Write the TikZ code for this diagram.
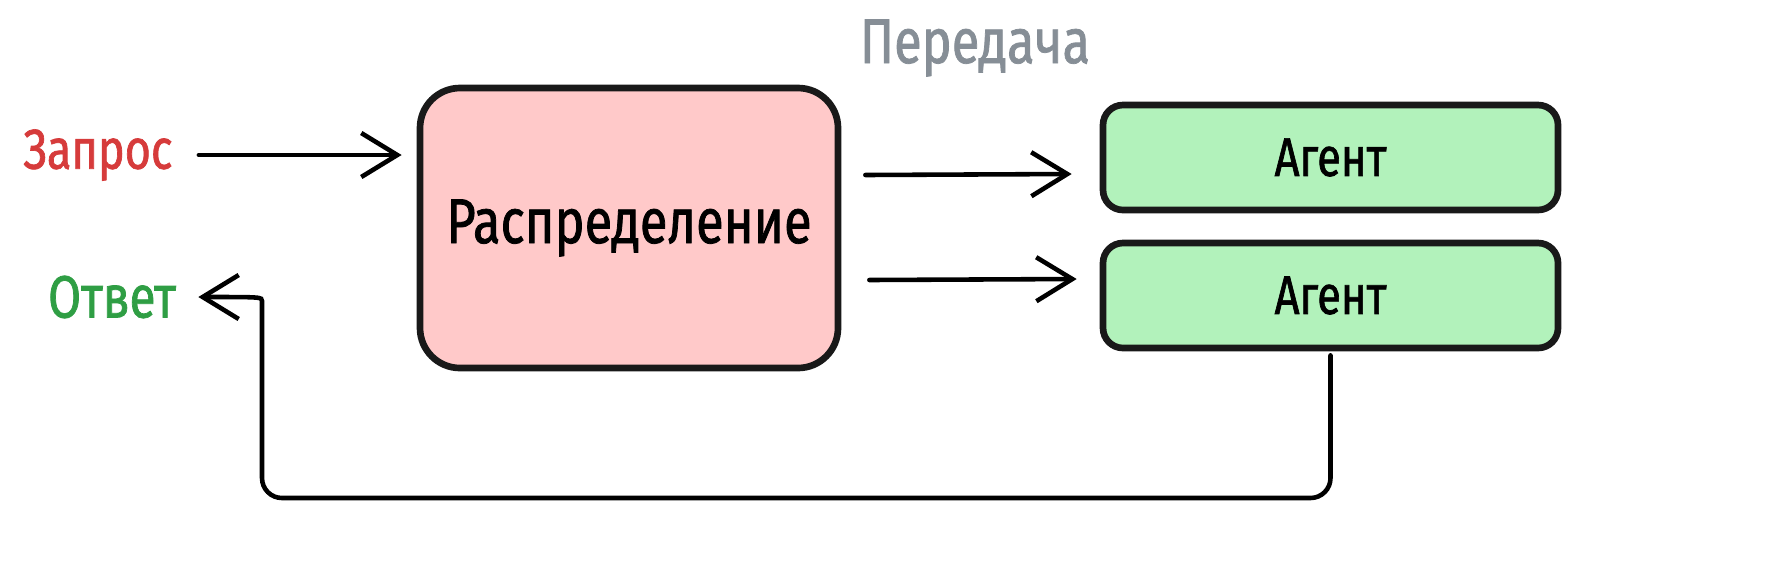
\documentclass[tikz,border=0pt]{standalone}
\usepackage{fontspec}
\setmainfont[FakeStretch=0.8,FakeBold=1.2]{Fira Sans}
\usepackage{tikz}
\usetikzlibrary{arrows.meta,calc}
\definecolor{reqred}{HTML}{D63B3B}
\definecolor{ansgreen}{HTML}{2F9E44}
\definecolor{labgray}{HTML}{868E96}
\definecolor{pinkfill}{HTML}{FFC9C9}
\definecolor{greenfill}{HTML}{B2F2BB}
\tikzset{
	arr/.style={line width=1.3pt, line cap=round, -{Straight Barb[length=0.36cm,width=0.44cm,line width=1.3pt]}},
	box/.style={draw=black!90, line width=1.9pt, align=center, text=black}
}

\begin{document}
\begin{tikzpicture}
			\useasboundingbox (0,0) rectangle (17.82,5.76);

			% Draw the boxes
			\node[box, fill=pinkfill, rounded corners=0.4cm, minimum width=4.18cm, minimum height=2.8cm,
				font=\fontsize{18}{21}\selectfont] (dist) at (6.29,3.48) {Распределение};
			\node[box, fill=greenfill, rounded corners=0.2cm, minimum width=4.55cm, minimum height=1.05cm,
				font=\fontsize{15.5}{18}\selectfont] (agent1) at (13.305,4.185) {Агент};
			\node[box, fill=greenfill, rounded corners=0.2cm, minimum width=4.55cm, minimum height=1.05cm,
				font=\fontsize{15.5}{18}\selectfont] (agent2) at (13.305,2.805) {Агент};

			% Labels
			\node[text=reqred, font=\fontsize{16}{19}\selectfont] (zapros) at (0.98,4.21) {Запрос};
			\node[text=ansgreen, font=\fontsize{17}{20}\selectfont] (otvet) at (1.12,2.79) {Ответ};
			\node[text=labgray, font=\fontsize{18}{21}\selectfont] (pered) at (9.75,5.28) {Передача};

			% Draw the arrows
			\draw[arr] ([xshift=0.14cm]zapros.east) -- ([xshift=-0.15cm]zapros.east -| dist.west);
			\draw[arr] ([shift={(0.24,0.53)}]dist.east) -- ([shift={(-0.28,-0.165)}]agent1.west);
			\draw[arr] ([shift={(0.28,-0.52)}]dist.east) -- ([shift={(-0.23,0.165)}]agent2.west);

			% Draw the way back
			\coordinate (turn) at (2.62,0.78);
			\draw[arr, rounded corners=0.2cm] ([yshift=-0.04cm]agent2.south) |- (turn) -- (2.62,2.55)
				.. controls (2.62,2.79) .. ([xshift=0.1cm]otvet.east);
\end{tikzpicture}
\end{document}
